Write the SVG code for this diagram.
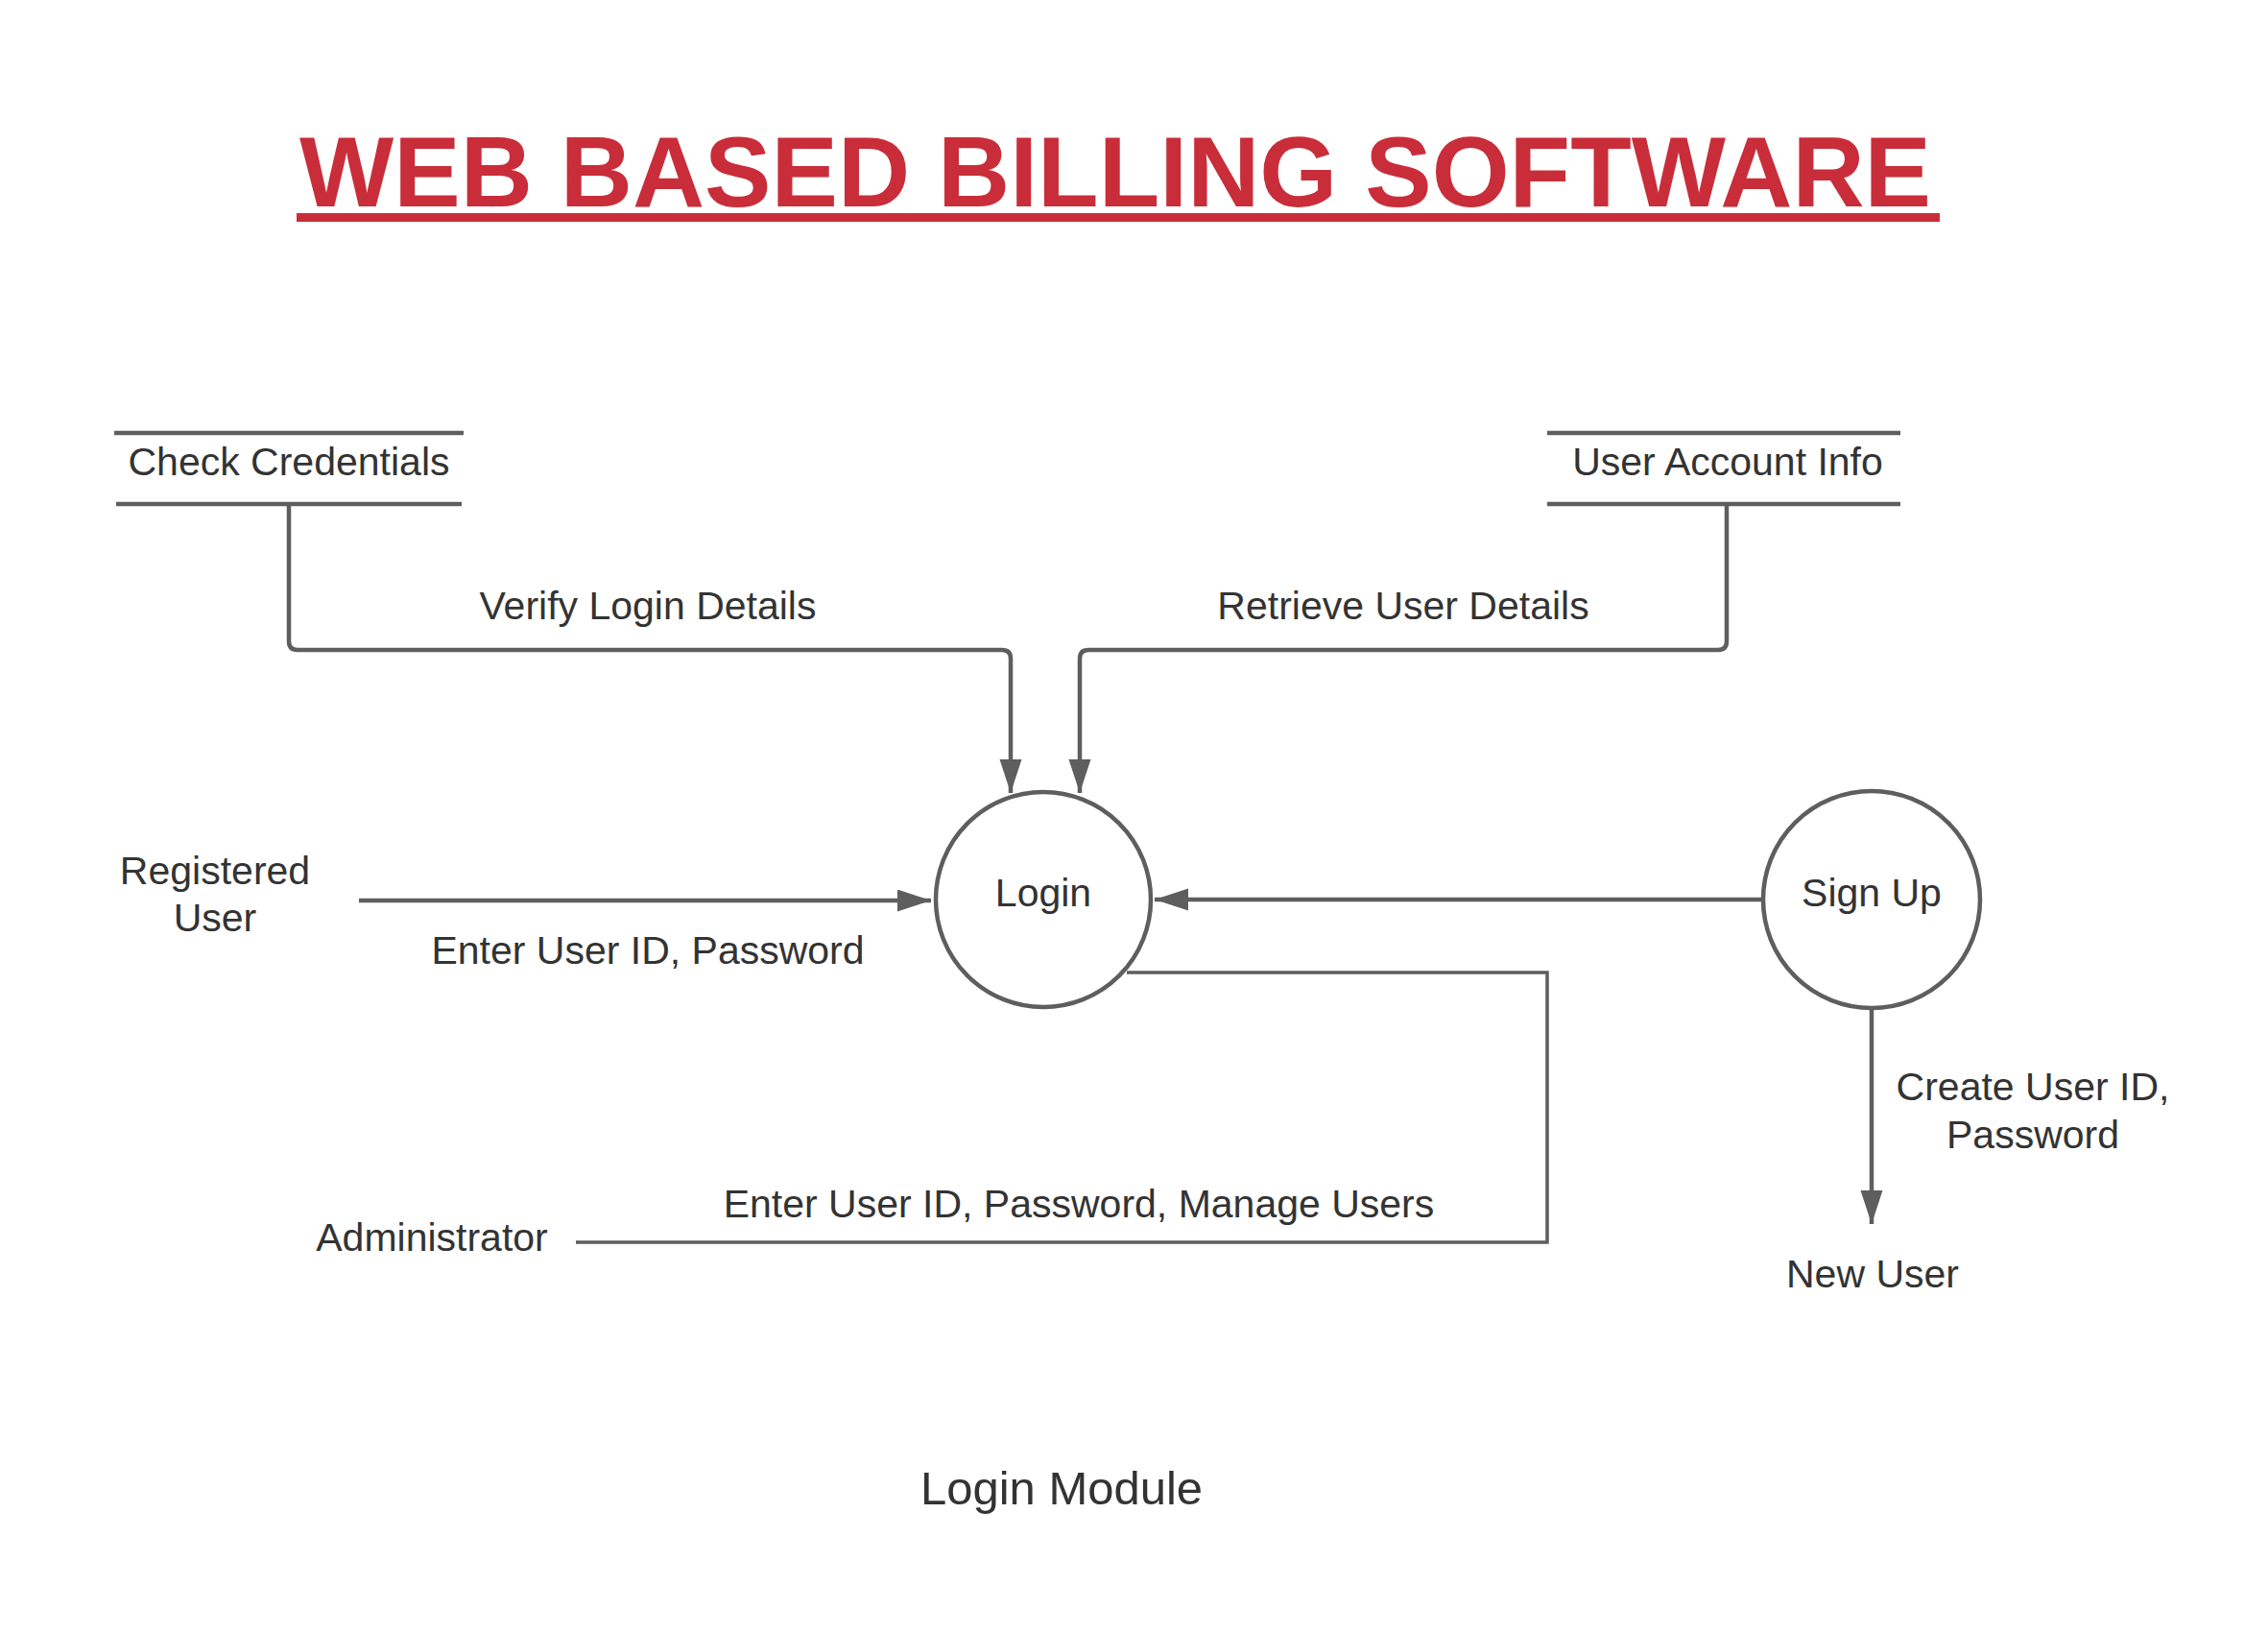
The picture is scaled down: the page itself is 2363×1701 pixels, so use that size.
<svg xmlns="http://www.w3.org/2000/svg" width="2363" height="1701" viewBox="0 0 2363 1701">
<defs>
<style>
text{font-family:"Liberation Sans",Arial,sans-serif;fill:#333333;font-size:41px;text-anchor:middle}
.title{font-size:104px;font-weight:bold;fill:#C92D39}
.line{fill:none;stroke:#5E5E5E;stroke-width:4.5}
.thin{fill:none;stroke:#5E5E5E;stroke-width:3.5}
.shape{fill:#FFFFFF;stroke:#5E5E5E;stroke-width:4.5}
</style>
<marker id="arr" markerWidth="36" markerHeight="24" refX="35" refY="11.5" orient="auto" markerUnits="userSpaceOnUse">
<path d="M0,0 L35,11.5 L0,23 Z" fill="#5E5E5E"/>
</marker>
</defs>
<rect width="2363" height="1701" fill="#FFFFFF"/>
<g id="title">
<text class="title" x="1162" y="215" textLength="1700" lengthAdjust="spacingAndGlyphs">WEB BASED BILLING SOFTWARE</text>
<rect x="309" y="222" width="1712" height="9" fill="#C92D39"/>
</g>
<g id="connectors">
<path class="line" d="M301,525 V668 Q301,677 310,677 H1044 Q1053,677 1053,686 V826" marker-end="url(#arr)"/>
<path class="line" d="M1799,525 V668 Q1799,677 1790,677 H1134 Q1125,677 1125,686 V826" marker-end="url(#arr)"/>
<path class="line" d="M374,938 H970" marker-end="url(#arr)"/>
<path class="line" d="M1836,937 H1203" marker-end="url(#arr)"/>
<path class="line" d="M1950,1051 V1275" marker-end="url(#arr)"/>
<path class="thin" d="M1174,1013 H1612 V1294 H600"/>
</g>
<g id="check-credentials">
<line class="line" x1="119" y1="451" x2="483" y2="451"/>
<line class="line" x1="121" y1="525" x2="481" y2="525"/>
<text x="301" y="495">Check Credentials</text>
</g>
<g id="user-account-info">
<line class="line" x1="1612" y1="451" x2="1980" y2="451"/>
<line class="line" x1="1612" y1="525" x2="1980" y2="525"/>
<text x="1800" y="495">User Account Info</text>
</g>
<g id="login">
<circle class="shape" cx="1087" cy="937" r="112"/>
<text x="1087" y="944">Login</text>
</g>
<g id="sign-up">
<circle class="shape" cx="1950" cy="937" r="113"/>
<text x="1950" y="944">Sign Up</text>
</g>
<g id="registered-user">
<text x="224" y="921">Registered</text>
<text x="224" y="970">User</text>
</g>
<g id="administrator">
<text x="450" y="1303">Administrator</text>
</g>
<g id="new-user">
<text x="1951" y="1341">New User</text>
</g>
<g id="labels">
<text x="675" y="645">Verify Login Details</text>
<text x="1462" y="645">Retrieve User Details</text>
<text x="675" y="1004">Enter User ID, Password</text>
<text x="1124" y="1268">Enter User ID, Password, Manage Users</text>
<text x="2118" y="1146">Create User ID,</text>
<text x="2118" y="1196">Password</text>
<text x="1106" y="1567" style="font-size:49px">Login Module</text>
</g>
</svg>
